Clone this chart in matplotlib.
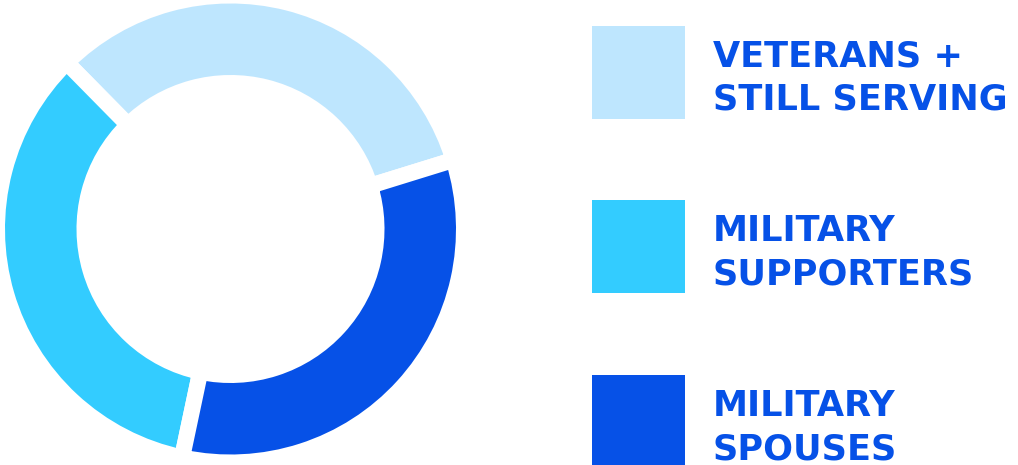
import matplotlib.pyplot as plt
from matplotlib.patches import Rectangle

# audience split shown in the ring (percent), listed counter-clockwise from the right gap
labels = ["VETERANS +\nSTILL SERVING", "MILITARY\nSUPPORTERS", "MILITARY\nSPOUSES"]
shares = [32.6, 34.3, 33.1]
colors = ["#BEE6FE", "#33CCFF", "#0651E7"]
text_color = "#0651E7"

W, H = 1018, 465
fig = plt.figure(figsize=(W / 100, H / 100), dpi=100)
ax = fig.add_axes([0, 0, 1, 1])  # data units == pixels

# ring geometry (pixels); white edge stroke makes the gaps between slices
gap = 16
r_out, r_in = 225.5, 154
cx, cy = 230.5, H - 229

ax.pie(shares, colors=colors, startangle=17.2, center=(cx, cy),
       radius=r_out + gap / 2,
       wedgeprops=dict(width=r_out - r_in + gap, edgecolor="white",
                       linewidth=gap * 72 / 100))

# legend: big squares with two-line bold labels
sq = 93
for i, (lab, c) in enumerate(zip(labels, colors)):
    top = 26 + i * 174.5
    ax.add_patch(Rectangle((592, H - top - sq), sq, sq, color=c, lw=0))
    for j, line in enumerate(lab.split("\n")):
        ax.text(713, H - (top + 41 + 43 * j), line, fontsize=25.3,
                fontweight="bold", color=text_color, ha="left", va="baseline",
                family="DejaVu Sans")

ax.set_xlim(0, W)
ax.set_ylim(0, H)
ax.set_aspect("equal")
ax.axis("off")

fig.savefig("out.png", dpi=100, facecolor="white")
